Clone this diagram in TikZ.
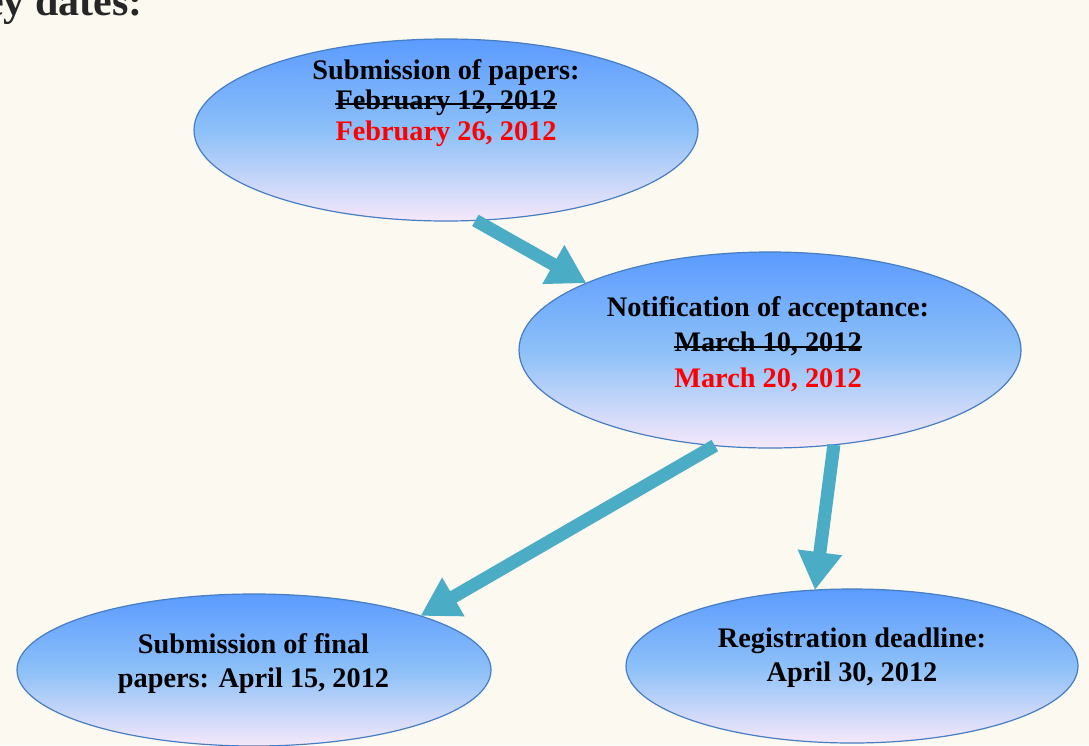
\documentclass[tikz,border=0pt]{standalone}
\usepackage{fontspec}
\setmainfont{Liberation Serif}
\usetikzlibrary{shapes.geometric,arrows.meta}
\definecolor{bgcream}{RGB}{251,249,240}
\definecolor{bubtop}{RGB}{92,155,255}
\definecolor{bubmid}{RGB}{140,192,248}
\definecolor{bubbot}{RGB}{246,232,250}
\definecolor{bubedge}{RGB}{70,125,195}
\definecolor{arrteal}{RGB}{75,172,198}
\definecolor{titlegray}{RGB}{38,38,38}
\definecolor{datered}{RGB}{255,0,0}
\begin{document}
\begin{tikzpicture}[x=1pt,y=-1pt,
  bubble/.style={ellipse, draw=bubedge, line width=1.2pt, inner sep=0pt, outer sep=0pt,
    top color=bubtop, bottom color=bubbot, middle color=bubmid},
  conn/.style={draw=arrteal, line width=13pt, -{Triangle[length=38pt,width=42pt]}},
  lbl/.style={inner sep=0pt, anchor=base, font=\fontsize{28.3}{31}\selectfont\bfseries},
  strikeline/.style={line width=1.8pt}]
\useasboundingbox (0,0) rectangle (1089,745);
\fill[bgcream] (0,0) rectangle (1089,745);

\node[anchor=base east, inner sep=0pt, text=titlegray, font=\fontsize{42}{46}\selectfont\bfseries] (title) at (143,15) {Key dates:};

\node[bubble, minimum width=504pt, minimum height=182pt] (top) at (446,130) {};
\node[bubble, minimum width=502pt, minimum height=196pt] (mid) at (770,350) {};
\node[bubble, minimum width=474pt, minimum height=152pt] (bl) at (254,670) {};
\node[bubble, minimum width=452pt, minimum height=154pt] (br) at (852,666) {};

\node[lbl] (s1) at (446,79.5) {Submission of papers:};
\node[lbl] (s2) at (446,109) {February 12, 2012};
\node[lbl,text=datered] (s3) at (446,140) {February 26, 2012};
\draw[strikeline] ([yshift=4.7pt]s2.base west) -- ([yshift=4.7pt]s2.base east);

\node[lbl] (n1) at (768,316) {Notification of acceptance:};
\node[lbl] (n2) at (768,351) {March 10, 2012};
\node[lbl,text=datered] (n3) at (768,387) {March 20, 2012};
\draw[strikeline] ([yshift=4.3pt]n2.base west) -- ([yshift=4.3pt]n2.base east);

\node[lbl] (f1) at (253.5,653) {Submission of final};
\node[lbl] (f2) at (253.5,687) {papers: April 15, 2012};

\node[lbl] (r1) at (852,647) {Registration deadline:};
\node[lbl] (r2) at (852,681) {April 30, 2012};

\draw[conn] (top.-72) -- (mid.160);
\draw[conn] (mid.-120) -- (bl.18);
\draw[conn] (mid.-56) -- (br.116);
\end{tikzpicture}
\end{document}
